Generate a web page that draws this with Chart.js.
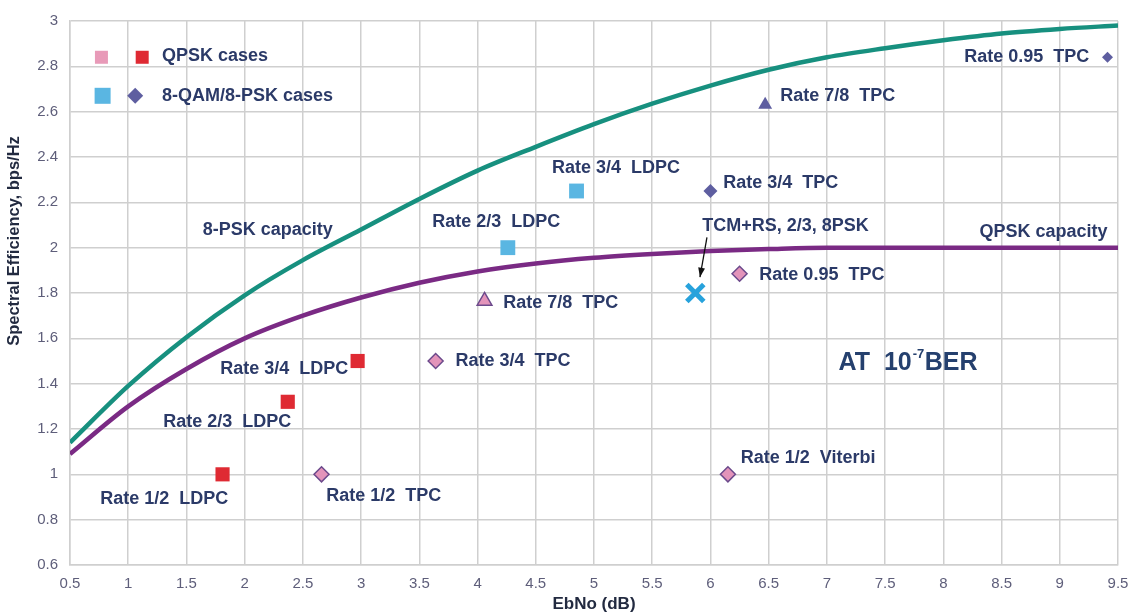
<!DOCTYPE html>
<html>
<head>
<meta charset="utf-8">
<script src="https://cdn.jsdelivr.net/npm/chart.js@4/dist/chart.umd.min.js"></script>
<style>
  html, body { margin: 0; padding: 0; background: #fff; }
  #wrap { width: 1130px; height: 615px; position: relative; }
</style>
</head>
<body>
<div id="wrap"><canvas id="effChart"></canvas></div>
<script>
// capacity curves (EbNo in dB, spectral efficiency in bps/Hz)
const ebnoGrid = [0.5, 1, 1.5, 2, 2.5, 3, 3.5, 4, 4.5, 5, 5.5, 6, 6.5, 7, 7.5, 8, 8.5, 9, 9.5];
const psk8Capacity = [1.14, 1.39, 1.605, 1.79, 1.945, 2.08, 2.215, 2.34, 2.445, 2.545, 2.635, 2.715, 2.785, 2.84, 2.88, 2.915, 2.945, 2.965, 2.98];
const qpskCapacity = [1.09, 1.30, 1.465, 1.60, 1.70, 1.78, 1.845, 1.895, 1.93, 1.955, 1.972, 1.985, 1.994, 2.0, 2.0, 2.0, 2.0, 2.0, 2.0];

// measured code points
const qpskLdpcX = [1.81, 2.37, 2.97];
const qpskLdpcY = [1.0, 1.32, 1.5];
const qpskTpcX = [2.66, 3.64, 6.25, 6.15];
const qpskTpcY = [1.0, 1.5, 1.885, 1.0];
const qpskTpc78X = [4.06];
const qpskTpc78Y = [1.765];
const psk8LdpcX = [4.26, 4.85];
const psk8LdpcY = [2.0, 2.25];
const psk8TpcX = [6.0, 9.41];
const psk8TpcY = [2.25, 2.84];
const psk8Tpc78X = [6.47];
const psk8Tpc78Y = [2.63];
const tcmX = [5.87];
const tcmY = [1.8];

// text annotations, anchored in data units
const noteText = ['8-PSK capacity', 'QPSK capacity',
  'Rate 1/2  LDPC', 'Rate 2/3  LDPC', 'Rate 3/4  LDPC',
  'Rate 1/2  TPC', 'Rate 3/4  TPC', 'Rate 7/8  TPC', 'Rate 0.95  TPC', 'Rate 1/2  Viterbi',
  'Rate 2/3  LDPC', 'Rate 3/4  LDPC', 'Rate 3/4  TPC', 'Rate 7/8  TPC', 'Rate 0.95  TPC',
  'TCM+RS, 2/3, 8PSK', 'QPSK cases', '8-QAM/8-PSK cases'];
const noteX = [1.64, 8.31, 0.76, 1.30, 1.79, 2.70, 3.81, 4.22, 6.42, 6.26, 3.61, 4.64, 6.11, 6.60, 8.18, 5.93, 1.29, 1.29];
const noteY = [2.077, 2.068, 0.891, 1.229, 1.466, 0.903, 1.50, 1.756, 1.879, 1.07, 2.114, 2.35, 2.286, 2.67, 2.84, 2.096, 2.846, 2.67];

const xTickStep = 0.5, yTickStep = 0.2;

const textColor = '#2b3a68';
const fontFamily = '"Liberation Sans", Arial, sans-serif';

function pts(xs, ys) {
  return xs.map((v, i) => ({ x: v, y: ys[i] }));
}

function drawMark(ctx, style, cx, cy, r, fill, stroke) {
  ctx.beginPath();
  if (style === 'rect') {
    ctx.rect(cx - r, cy - r, 2 * r, 2 * r);
  } else {
    ctx.moveTo(cx - r, cy);
    ctx.lineTo(cx, cy - r);
    ctx.lineTo(cx + r, cy);
    ctx.lineTo(cx, cy + r);
    ctx.closePath();
  }
  ctx.fillStyle = fill;
  ctx.fill();
  if (stroke) { ctx.strokeStyle = stroke; ctx.lineWidth = 1; ctx.stroke(); }
}

const notesPlugin = {
  id: 'notes',
  afterDatasetsDraw(chart) {
    const { ctx, scales: { x, y } } = chart;
    ctx.save();
    ctx.fillStyle = textColor;
    ctx.textBaseline = 'middle';
    ctx.textAlign = 'left';
    ctx.font = 'bold 18px ' + fontFamily;
    noteText.forEach((t, i) => {
      ctx.fillText(t, x.getPixelForValue(noteX[i]), y.getPixelForValue(noteY[i]));
    });

    // AT 10^-7 BER
    const bx = x.getPixelForValue(7.1), by = y.getPixelForValue(1.49);
    ctx.font = 'bold 25px ' + fontFamily;
    ctx.fillStyle = '#25406e';
    ctx.fillText('AT  10', bx, by);
    let w = ctx.measureText('AT  10').width;
    ctx.font = 'bold 13px ' + fontFamily;
    ctx.fillText('-7', bx + w + 1, by - 9);
    ctx.font = 'bold 25px ' + fontFamily;
    ctx.fillText('BER', bx + w + 13, by);

    // arrow to TCM point
    const ax0 = x.getPixelForValue(5.97), ay0 = y.getPixelForValue(2.045);
    const ax1 = x.getPixelForValue(5.91), ay1 = y.getPixelForValue(1.87);
    ctx.strokeStyle = '#111';
    ctx.fillStyle = '#111';
    ctx.lineWidth = 1.3;
    ctx.beginPath();
    ctx.moveTo(ax0, ay0);
    ctx.lineTo(ax1, ay1);
    ctx.stroke();
    const ang = Math.atan2(ay1 - ay0, ax1 - ax0);
    ctx.beginPath();
    ctx.moveTo(ax1, ay1);
    ctx.lineTo(ax1 - 10 * Math.cos(ang - 0.35), ay1 - 10 * Math.sin(ang - 0.35));
    ctx.lineTo(ax1 - 10 * Math.cos(ang + 0.35), ay1 - 10 * Math.sin(ang + 0.35));
    ctx.closePath();
    ctx.fill();

    // legend keys
    drawMark(ctx, 'rect', x.getPixelForValue(0.77), y.getPixelForValue(2.84), 6.5, '#e89ab8');
    drawMark(ctx, 'rect', x.getPixelForValue(1.12), y.getPixelForValue(2.84), 6.5, '#df2a33');
    drawMark(ctx, 'rect', x.getPixelForValue(0.78), y.getPixelForValue(2.67), 8, '#5ab6e2');
    drawMark(ctx, 'diamond', x.getPixelForValue(1.06), y.getPixelForValue(2.67), 8, '#5e5ea0');

    // y axis title
    ctx.translate(14, 241);
    ctx.rotate(-Math.PI / 2);
    ctx.textAlign = 'center';
    ctx.fillStyle = '#222a40';
    ctx.font = 'bold 16.5px ' + fontFamily;
    ctx.fillText('Spectral Efficiency, bps/Hz', 0, 0);
    ctx.restore();
  }
};

const tickFmt = v => String(+v.toFixed(1));

new Chart(document.getElementById('effChart'), {
  type: 'scatter',
  data: {
    datasets: [
      {
        label: 'TCM+RS, 2/3, 8PSK',
        data: pts(tcmX, tcmY),
        pointStyle: 'crossRot',
        pointRadius: 12,
        borderColor: '#27a2dc',
        borderWidth: 5,
        backgroundColor: '#27a2dc'
      },
      {
        label: 'QPSK LDPC',
        data: pts(qpskLdpcX, qpskLdpcY),
        pointStyle: 'rect',
        pointRadius: 10,
        backgroundColor: '#df2a33',
        borderColor: '#df2a33',
        borderWidth: 0
      },
      {
        label: 'QPSK TPC',
        data: pts(qpskTpcX, qpskTpcY),
        pointStyle: 'rectRot',
        pointRadius: 7.5,
        backgroundColor: '#e394ba',
        borderColor: '#6c4a8c',
        borderWidth: 1.5
      },
      {
        label: 'QPSK TPC 7/8',
        data: pts(qpskTpc78X, qpskTpc78Y),
        pointStyle: 'triangle',
        pointRadius: 8.5,
        backgroundColor: '#e394ba',
        borderColor: '#6c4a8c',
        borderWidth: 1.5
      },
      {
        label: '8PSK LDPC',
        data: pts(psk8LdpcX, psk8LdpcY),
        pointStyle: 'rect',
        pointRadius: 10.5,
        backgroundColor: '#5ab6e2',
        borderColor: '#5ab6e2',
        borderWidth: 0
      },
      {
        label: '8PSK TPC',
        data: pts(psk8TpcX, psk8TpcY),
        pointStyle: 'rectRot',
        pointRadius: [7, 5.5],
        backgroundColor: '#5e5ea0',
        borderColor: '#5e5ea0',
        borderWidth: 0
      },
      {
        label: '8PSK TPC 7/8',
        data: pts(psk8Tpc78X, psk8Tpc78Y),
        pointStyle: 'triangle',
        pointRadius: 8,
        backgroundColor: '#5e5ea0',
        borderColor: '#5e5ea0',
        borderWidth: 0
      },
      {
        label: '8-PSK capacity',
        type: 'line',
        data: pts(ebnoGrid, psk8Capacity),
        borderColor: '#17907f',
        borderWidth: 4.5,
        pointRadius: 0,
        fill: false,
        cubicInterpolationMode: 'monotone'
      },
      {
        label: 'QPSK capacity',
        type: 'line',
        data: pts(ebnoGrid, qpskCapacity),
        borderColor: '#7a2a84',
        borderWidth: 4.5,
        pointRadius: 0,
        fill: false,
        cubicInterpolationMode: 'monotone'
      }
    ]
  },
  options: {
    responsive: true,
    maintainAspectRatio: false,
    animation: false,
    layout: { autoPadding: false, padding: { top: 19, right: 12, left: 0, bottom: 0 } },
    plugins: {
      legend: { display: false },
      tooltip: { enabled: false }
    },
    scales: {
      x: {
        type: 'linear',
        min: 0.5,
        max: 9.5,
        afterFit: s => { s.height = 50; s.paddingRight = 0; s.paddingLeft = 0; },
        grid: { color: '#cfcfcf', lineWidth: 1.5, drawTicks: false },
        border: { color: '#cfcfcf', width: 1.5 },
        ticks: {
          stepSize: xTickStep,
          padding: 10,
          color: '#5e5e7a',
          font: { family: fontFamily, size: 15 },
          callback: tickFmt,
          maxRotation: 0,
          autoSkip: false
        },
        title: {
          display: true,
          text: 'EbNo (dB)',
          color: '#222a40',
          font: { family: fontFamily, size: 17, weight: 'bold' },
          padding: { top: 0, bottom: 0 }
        }
      },
      y: {
        type: 'linear',
        min: 0.6,
        max: 3,
        afterFit: s => { s.width = 70; },
        grid: { color: '#cfcfcf', lineWidth: 1.5, drawTicks: false },
        border: { color: '#cfcfcf', width: 1.5 },
        ticks: {
          stepSize: yTickStep,
          padding: 12,
          color: '#5e5e7a',
          font: { family: fontFamily, size: 15 },
          callback: tickFmt,
          autoSkip: false
        }
      }
    }
  },
  plugins: [notesPlugin]
});
</script>
</body>
</html>
